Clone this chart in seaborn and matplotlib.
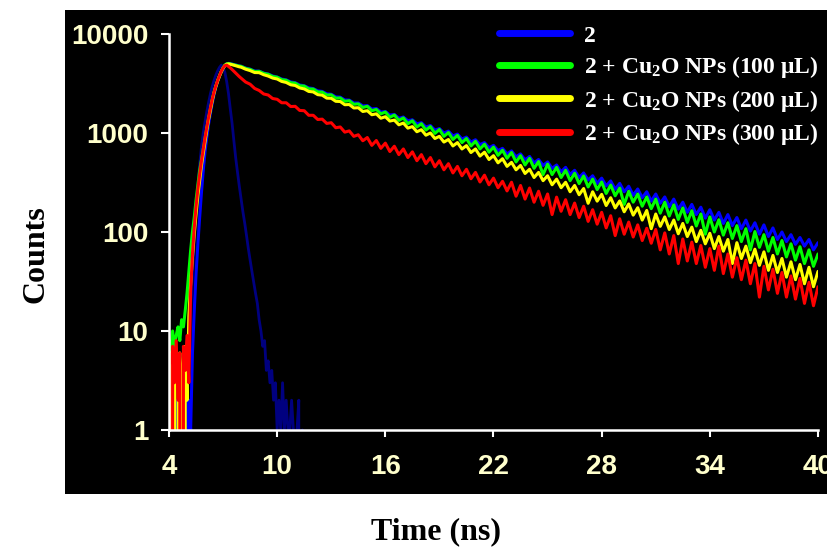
import numpy as np
import pandas as pd
import matplotlib
matplotlib.use("Agg")
import matplotlib.pyplot as plt
import seaborn as sns
from matplotlib.patches import Rectangle
from matplotlib.lines import Line2D
from matplotlib.ticker import NullLocator

# ---------------- data ----------------
# rise region: 4.0 .. 7.9 ns, 0.1 ns channels
t_rise = np.linspace(4.0, 7.9, 40)
# decay region: 8.0 .. 40.0 ns, 0.25 ns channels
t_tail = np.linspace(8.0, 40.0, 129)
# instrument response: 4.0 .. 12.0 ns, 0.1 ns channels
t_irf = np.linspace(4.0, 12.0, 81)

irf_counts = [
    0, 0, 0, 0, 0, 0, 0, 0, 0, 1,
    2, 6, 15, 35, 80, 160, 290, 480, 720, 1000,
    1300, 1650, 2050, 2500, 2950, 3400, 3850, 4250, 4600, 4850,
    4600, 4100, 3300, 2500, 1750, 1250, 830, 560, 400, 290,
    215, 160, 123, 92, 68, 52, 40, 31, 24, 19,
    13, 10, 7, 8, 4, 5, 3, 4, 2, 3,
    1, 2, 1, 3, 1, 2, 1, 1, 2, 1,
    0, 1, 2, 0, 1, 0, 0, 0, 0, 0,
    0,
]

blue_rise = [
    2, 1, 3, 0, 2, 1, 0, 2, 1, 3,
    1, 2, 1, 6, 16, 38, 75, 140, 250, 420,
    650, 920, 1250, 1600, 2000, 2450, 2900, 3350, 3750, 4150,
    4500, 4800, 4980, 5050, 5020, 4970, 4920, 4860, 4810, 4760,
]
green_rise = [
    8, 6, 10, 7, 9, 11, 8, 13, 11, 16,
    24, 40, 65, 100, 140, 210, 300, 420, 540, 690,
    880, 1130, 1430, 1780, 2180, 2600, 3000, 3400, 3800, 4200,
    4550, 4850, 5000, 5020, 4990, 4940, 4890, 4830, 4790, 4740,
]
yellow_rise = [
    3, 6, 0, 5, 0, 4, 6, 3, 0, 7,
    2, 14, 30, 55, 95, 150, 230, 330, 470, 620,
    820, 1080, 1380, 1720, 2120, 2550, 2950, 3350, 3750, 4150,
    4500, 4800, 4950, 4980, 4950, 4900, 4840, 4780, 4720, 4660,
]
red_rise = [
    6, 0, 7, 3, 8, 2, 6, 0, 7, 4,
    9, 3, 25, 60, 110, 180, 270, 380, 520, 690,
    900, 1150, 1450, 1800, 2200, 2600, 3000, 3400, 3800, 4200,
    4550, 4800, 4850, 4700, 4550, 4380, 4200, 4030, 3870, 3710,
]

# one row per ns (t, t+.25, t+.5, t+.75), rows 8 .. 39, then t = 40
blue_tail = [
    4720, 4530, 4410, 4230,  4210, 4030, 3940, 3770,  3670, 3510, 3440, 3280,
    3220, 3060, 3000, 2860,  2810, 2670, 2630, 2490,  2460, 2320, 2300, 2160,
    2150, 2010, 2010, 1880,  1890, 1750, 1770, 1630,  1650, 1520, 1540, 1410,
    1450, 1330, 1360, 1240,  1270, 1150, 1190, 1070,  1110, 1000, 1045, 935,
    975, 870, 910, 810,  855, 765, 800, 710,  750, 665, 700, 615,
    660, 575, 615, 535,  580, 500, 540, 470,  510, 440, 475, 405,
    450, 380, 420, 355,  395, 335, 370, 310,  350, 292, 328, 270,
    310, 255, 290, 235,  272, 222, 255, 205,  242, 195, 226, 180,
    215, 170, 200, 158,  190, 150, 178, 138,  168, 132, 158, 122,
    150, 116, 140, 108,  132, 102, 124, 95,  118, 90, 110, 84,
    100, 80, 94, 75,  88, 72, 84, 66,
    78,
]
green_tail = [
    4710, 4490, 4390, 4180,  4200, 4000, 3920, 3720,  3660, 3460, 3410, 3220,
    3190, 3000, 2980, 2790,  2780, 2600, 2590, 2420,  2430, 2250, 2260, 2090,
    2120, 1950, 1970, 1810,  1860, 1680, 1730, 1560,  1630, 1440, 1520, 1340,
    1420, 1240, 1330, 1150,  1240, 1070, 1160, 990,  1085, 925, 1010, 860,
    945, 800, 880, 740,  825, 690, 770, 640,  720, 595, 670, 555,
    635, 510, 590, 475,  555, 440, 515, 380,  485, 380, 450, 355,
    420, 330, 392, 308,  368, 285, 342, 268,  320, 245, 298, 232,
    278, 190, 258, 200,  242, 182, 226, 172,  215, 155, 200, 145,
    188, 134, 175, 125,  164, 115, 152, 95,  142, 100, 133, 93,
    124, 86, 116, 80,  108, 66, 101, 70,  94, 64, 88, 60,
    82, 56, 76, 52,  71, 48, 66, 45,
    60,
]
yellow_tail = [
    4620, 4410, 4270, 4080,  4070, 3880, 3760, 3590,  3510, 3320, 3240, 3070,
    3020, 2850, 2790, 2630,  2600, 2440, 2410, 2250,  2240, 2090, 2080, 1930,
    1940, 1790, 1800, 1650,  1680, 1530, 1560, 1410,  1460, 1320, 1350, 1210,
    1260, 1120, 1160, 1030,  1080, 950, 1000, 880,  925, 810, 860, 740,
    800, 690, 745, 635,  690, 585, 640, 540,  590, 500, 550, 460,
    505, 425, 470, 390,  430, 355, 400, 330,  370, 300, 342, 280,
    318, 255, 295, 238,  275, 195, 255, 205,  240, 185, 222, 175,
    206, 160, 192, 148,  176, 132, 165, 108,  152, 114, 142, 106,
    132, 96, 122, 90,  112, 80, 104, 76,  97, 68, 90, 64,
    84, 48, 78, 54,  72, 49, 67, 46,  63, 41, 58, 39,
    54, 35, 50, 33,  47, 30, 44, 28,
    40,
]
red_tail = [
    3580, 3270, 3110, 2820,  2690, 2480, 2420, 2230,  2190, 2020, 2020, 1850,
    1860, 1690, 1680, 1510,  1510, 1370, 1380, 1250,  1270, 1130, 1150, 1020,
    1050, 925, 960, 835,  900, 750, 840, 700,  790, 650, 735, 605,
    690, 565, 645, 525,  605, 490, 565, 455,  525, 425, 490, 395,
    460, 370, 430, 345,  400, 320, 375, 300,  350, 280, 325, 260,
    318, 230, 295, 215,  278, 200, 258, 186,  242, 150, 225, 162,
    212, 150, 196, 140,  182, 128, 168, 120,  158, 110, 146, 92,
    136, 95, 126, 89,  118, 82, 109, 77,  106, 66, 98, 60,
    92, 48, 85, 51,  79, 48, 73, 44,  68, 41, 72, 38,
    60, 35, 55, 33,  52, 30, 48, 22,  45, 26, 42, 24,
    39, 22, 36, 21,  34, 19, 31, 18,
    28,
]

labels = ["2",
          "2 + Cu$_2$O NPs (100 μL)",
          "2 + Cu$_2$O NPs (200 μL)",
          "2 + Cu$_2$O NPs (300 μL)"]
colors = ["#0000FF", "#00FF00", "#FFFF00", "#FF0000"]
irf_color = "#000080"

x_ticks = [4, 10, 16, 22, 28, 34, 40]
y_ticks = [1, 10, 100, 1000, 10000]
y_ticklabels = ["1", "10", "100", "1000", "10000"]

# ---------------- figure ----------------
sns.set_theme(style="white")
plt.rcParams["mathtext.fontset"] = "custom"
plt.rcParams["mathtext.rm"] = "Liberation Serif:bold"
plt.rcParams["mathtext.it"] = "Liberation Serif:bold"
plt.rcParams["mathtext.bf"] = "Liberation Serif:bold"

W, H = 828, 548
fig = plt.figure(figsize=(W / 100, H / 100), dpi=100)
fig.patch.set_facecolor("white")
fig.patches.append(Rectangle((65 / W, 1 - 494 / H), (W - 65) / W, (494 - 10) / H,
                             transform=fig.transFigure, facecolor="black",
                             edgecolor="none", zorder=-10))
ax = fig.add_axes([169 / W, 1 - 430 / H, (818 - 169) / W, (430 - 34) / H])
ax.set_zorder(1)
ax.set_facecolor("black")

series = [
    (blue_rise, blue_tail, colors[0]),
    (green_rise, green_tail, colors[1]),
    (yellow_rise, yellow_tail, colors[2]),
    (red_rise, red_tail, colors[3]),
]

sns.lineplot(x=t_irf, y=np.array(irf_counts, float), color=irf_color, lw=2.0,
             estimator=None, sort=False, ax=ax)
for rise, tail, c in series:
    t = np.concatenate([t_rise, t_tail])
    y = np.array(list(rise) + list(tail), float)
    sns.lineplot(x=t, y=y, color=c, lw=2.2, estimator=None, sort=False, ax=ax)

ax.set_yscale("log")
ax.set_xlim(4, 40)
ax.set_ylim(1, 10000)
ax.yaxis.set_minor_locator(NullLocator())
ax.set_xticks(x_ticks)
ax.set_xticklabels([str(v) for v in x_ticks])
ax.set_yticks(y_ticks)
ax.set_yticklabels(y_ticklabels)
ax.set_xlabel("")
ax.set_ylabel("")
ax.grid(False)

for s in ["top", "right"]:
    ax.spines[s].set_visible(False)
for s in ["left", "bottom"]:
    ax.spines[s].set_color("white")
    ax.spines[s].set_linewidth(1.8)

for lab in ax.get_xticklabels() + ax.get_yticklabels():
    lab.set_fontfamily("Liberation Sans")
    lab.set_fontweight("bold")
    lab.set_fontsize(20)
    lab.set_color("#FFFFCC")
ax.tick_params(axis="y", which="major", direction="out", length=6, width=1.5,
               color="white", pad=9, left=True)
ax.tick_params(axis="x", which="major", direction="out", length=5, width=1.5,
               color="white", pad=12, bottom=True)

fig.text(36 / W, 1 - 254 / H, "Counts", rotation=90, ha="center", va="center",
         family="Liberation Serif", weight="bold", size=23, color="black")
fig.text(436 / W, 1 - 532 / H, "Time (ns)", ha="center", va="center",
         family="Liberation Serif", weight="bold", size=23, color="black")

handles = [Line2D([], [], color=c, lw=5) for c in colors]
leg = fig.legend(handles, labels, loc="upper left",
                 bbox_to_anchor=(499 / W, 1 - 25 / H), frameon=False,
                 prop=dict(family="Liberation Serif", weight="bold", size=17),
                 handlelength=3.0, handletextpad=0.6, labelspacing=0.32,
                 borderpad=0, borderaxespad=0)
leg.set_zorder(5)
for txt in leg.get_texts():
    txt.set_color("white")

fig.savefig("out.png", dpi=100, facecolor="white")
